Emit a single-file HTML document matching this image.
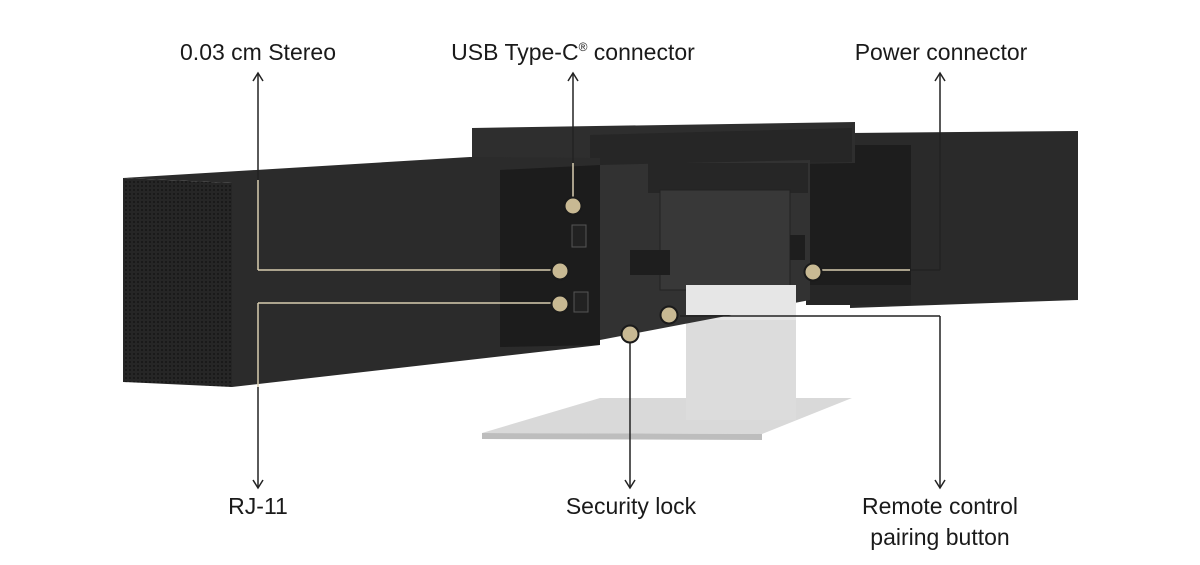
<!DOCTYPE html>
<html><head><meta charset="utf-8"><style>
html,body{margin:0;padding:0;background:#fff}
svg{display:block}
text{font-family:"Liberation Sans",sans-serif;font-size:23px;fill:#1a1a1a}
</style></head><body>
<svg width="1200" height="565" viewBox="0 0 1200 565">
<defs>
<pattern id="g" width="4" height="4" patternUnits="userSpaceOnUse"><rect width="4" height="4" fill="#262626"/><circle cx="2" cy="2" r="0.9" fill="#111"/></pattern>
</defs>
<rect width="1200" height="565" fill="#fff"/>
<!-- stand base -->
<polygon points="482,433 600,398 852,398 762,434" fill="#d9d9d9"/>
<polygon points="482,433 762,434 762,440 482,439" fill="#bdbdbd"/>
<rect x="686" y="285" width="110" height="135" fill="#e6e6e6"/>
<rect x="686" y="320" width="110" height="100" fill="#dcdcdc"/>
<!-- right bar -->
<polygon points="850,133 1078,131 1078,300 850,308" fill="#2a2a2a"/>
<rect x="806" y="145" width="105" height="160" fill="#1d1d1d"/>
<rect x="806" y="285" width="105" height="20" fill="#262626"/>
<!-- camera top -->
<polygon points="472,128 855,122 855,163 472,168" fill="#2e2e2e"/>
<polygon points="590,135 852,128 852,162 590,167" fill="#262626"/>
<!-- left bar -->
<polygon points="123,178 470,157 600,158 600,345 232,387 232,183" fill="#2b2b2b"/>
<polygon points="123,178 232,183 232,387 123,382" fill="url(#g)"/>
<polygon points="500,170 600,165 600,345 500,347" fill="#1c1c1c"/>
<!-- central panel -->
<polygon points="600,165 810,160 810,300 600,340" fill="#323232"/>
<rect x="648" y="163" width="160" height="30" fill="#262626"/>
<rect x="660" y="190" width="130" height="100" fill="#383838" stroke="#222"/>
<rect x="630" y="250" width="40" height="25" fill="#1e1e1e"/>
<rect x="790" y="235" width="15" height="25" fill="#1e1e1e"/>
<rect x="686" y="285" width="110" height="30" fill="#e6e6e6"/>
<rect x="572" y="225" width="14" height="22" fill="#222" stroke="#555"/>
<rect x="574" y="292" width="14" height="20" fill="#222" stroke="#555"/>
<!-- lines over white (dark) -->
<g stroke="#222" stroke-width="1.5" fill="none">
<line x1="258" y1="73" x2="258" y2="180"/>
<line x1="573" y1="73" x2="573" y2="163"/>
<line x1="940" y1="73" x2="940" y2="270"/>
<line x1="258" y1="387" x2="258" y2="488"/>
<line x1="630" y1="342" x2="630" y2="488"/>
<line x1="680" y1="316" x2="940" y2="316"/>
<line x1="940" y1="316" x2="940" y2="488"/>
<line x1="910" y1="270" x2="940" y2="270"/>
<path d="M253,81 L258,73 L263,81 M568,81 L573,73 L578,81 M935,81 L940,73 L945,81"/>
<path d="M253,480 L258,488 L263,480 M625,480 L630,488 L635,480 M935,480 L940,488 L945,480"/>
</g>
<!-- lines over dark (beige) -->
<g stroke="#d8cdb0" stroke-width="1.5" fill="none">
<line x1="258" y1="180" x2="258" y2="270"/>
<line x1="258" y1="270" x2="552" y2="270"/>
<line x1="258" y1="303" x2="552" y2="303"/>
<line x1="258" y1="303" x2="258" y2="387"/>
<line x1="573" y1="163" x2="573" y2="197"/>
<line x1="822" y1="270" x2="910" y2="270"/>
</g>
<!-- dots -->
<g fill="#c8b993" stroke="#1a1a1a" stroke-width="2">
<circle cx="573" cy="206" r="8.5"/>
<circle cx="560" cy="271" r="8.5"/>
<circle cx="560" cy="304" r="8.5"/>
<circle cx="813" cy="272" r="8.5"/>
<circle cx="669" cy="315" r="8.5"/>
<circle cx="630" cy="334" r="8.5"/>
</g>
<text x="258" y="60" text-anchor="middle">0.03 cm Stereo</text>
<text x="573" y="60" text-anchor="middle">USB Type-C<tspan font-size="12" dy="-9">®</tspan><tspan dy="9"> connector</tspan></text>
<text x="941" y="60" text-anchor="middle">Power connector</text>
<text x="258" y="514" text-anchor="middle">RJ-11</text>
<text x="631" y="514" text-anchor="middle">Security lock</text>
<text x="940" y="514" text-anchor="middle">Remote control</text>
<text x="940" y="545" text-anchor="middle">pairing button</text>
</svg>
</body></html>
